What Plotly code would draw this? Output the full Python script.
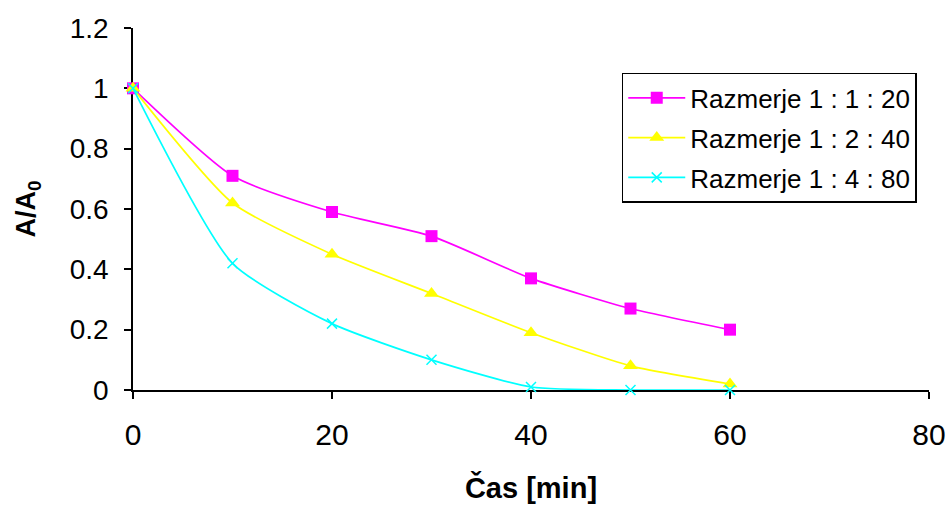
import plotly.graph_objects as go

# Time points [min]
cas = [0, 10, 20, 30, 40, 50, 60]

# Relative absorbance A/A0 for each mixing ratio
razmerje_1_1_20 = [1.0, 0.71, 0.59, 0.51, 0.37, 0.27, 0.20]
razmerje_1_2_40 = [1.0, 0.62, 0.45, 0.32, 0.19, 0.08, 0.02]
razmerje_1_4_80 = [1.0, 0.42, 0.22, 0.10, 0.01, 0.0, 0.0]

series = [
    ("Razmerje 1 : 1 : 20", razmerje_1_1_20, "#FF00FF", "square", 12, 0),
    ("Razmerje 1 : 2 : 40", razmerje_1_2_40, "#FFFF00", "triangle-up", 13, 0),
    ("Razmerje 1 : 4 : 80", razmerje_1_4_80, "#00FFFF", "x-thin-open", 10, 1.5),
]

x_ticks = [0, 20, 40, 60, 80]
y_ticks = [0, 0.2, 0.4, 0.6, 0.8, 1, 1.2]
y_tick_labels = ["0", "0.2", "0.4", "0.6", "0.8", "1", "1.2"]

FONT = "Liberation Sans, Arial, sans-serif"

fig = go.Figure()
for i, (name, vals, color, symbol, size, mlw) in enumerate(series):
    fig.add_trace(go.Scatter(
        x=cas, y=vals, name=name, mode="lines+markers",
        legendgroup=f"g{i}",
        line=dict(color=color, width=1.7, shape="spline", smoothing=0.6),
        marker=dict(symbol=symbol, size=size, color=color,
                    line=dict(color=color, width=mlw)),
        cliponaxis=False,
    ))

axis_common = dict(
    showgrid=False, zeroline=False, showline=True, linecolor="black",
    linewidth=1.5, ticks="outside", ticklen=7, tickwidth=1.5,
    tickcolor="black", layer="below traces", automargin=False,
)

fig.update_xaxes(
    range=[0, 80], tickvals=x_ticks,
    tickfont=dict(family=FONT, size=30, color="black"),
    ticklabelstandoff=10,
    title=dict(text="<b>Čas [min]</b>",
               font=dict(family=FONT, size=29, color="black"), standoff=28),
    **axis_common,
)
fig.update_yaxes(
    range=[0, 1.2], tickvals=y_ticks, ticktext=y_tick_labels,
    tickfont=dict(family=FONT, size=28, color="black"),
    ticklabelstandoff=10,
    title=dict(text="<b>A/A<sub>0</sub></b>",
               font=dict(family=FONT, size=27, color="black"), standoff=26),
    **axis_common,
)

fig.update_layout(
    width=949, height=506,
    margin=dict(l=133, r=20, t=28, b=116, autoexpand=False),
    paper_bgcolor="white", plot_bgcolor="white",
    font=dict(family=FONT, color="black"),
    showlegend=True,
    legend=dict(
        x=0.614, y=0.876, xanchor="left", yanchor="top",
        bgcolor="white", bordercolor="black", borderwidth=1.5,
        font=dict(family=FONT, size=26, color="black"),
        itemwidth=57, tracegroupgap=3,
    ),
)

fig.write_html("out.html")
